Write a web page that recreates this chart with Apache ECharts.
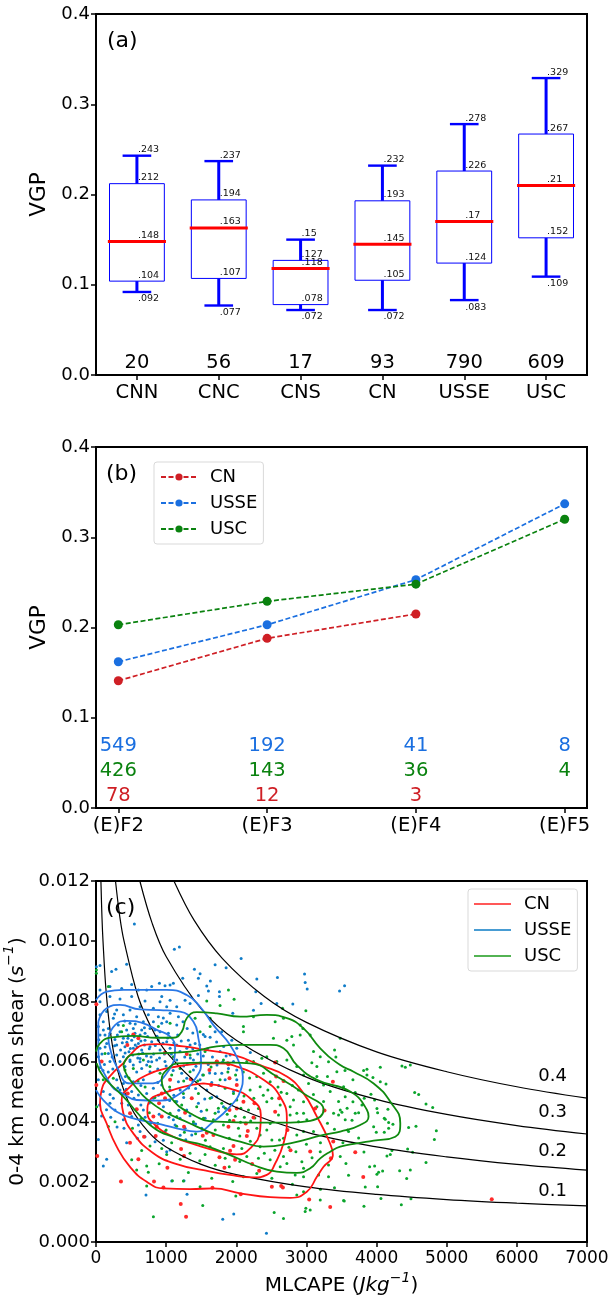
<!DOCTYPE html>
<html><head><meta charset="utf-8">
<style>html,body{margin:0;padding:0;background:#fff}#c{width:608px;height:1296px}</style>
<script src="https://cdn.jsdelivr.net/npm/echarts@6/dist/echarts.min.js"></script>
</head><body><div id="c"></div>
<script>
// ---- panel (a)
const regionsA=['CNN','CNC','CNS','CN','USSE','USC'];
const whiskerLow=[0.092,0.077,0.072,0.072,0.083,0.109];
const q1=[0.104,0.107,0.078,0.105,0.124,0.152];
const median=[0.148,0.163,0.118,0.145,0.17,0.21];
const q3=[0.212,0.194,0.127,0.193,0.226,0.267];
const whiskerHigh=[0.243,0.237,0.15,0.232,0.278,0.329];
const countsA=[20,56,17,93,790,609];
// ---- panel (b)
const ratings=['(E)F2','(E)F3','(E)F4','(E)F5'];
const vgpCN=[0.141,0.188,0.215];
const vgpUSSE=[0.162,0.203,0.253,0.337];
const vgpUSC=[0.203,0.229,0.248,0.32];
const countCN=[78,12,3];
const countUSSE=[549,192,41,8];
const countUSC=[426,143,36,4];
// ---- panel (c) : isolines of VGP
const iso01=[[70,.012],[85,.0108],[100,.01],[140,.00845],[200,.00707],[300,.00577],[500,.00447],[750,.00365],[1000,.00316],[1500,.00258],[2000,.00224],[3000,.00183],[4000,.00158],[5000,.00141],[6000,.00129],[7000,.0012]];
const iso02=[[278,.012],[340,.0108],[400,.01],[600,.00816],[800,.00707],[1000,.00632],[1500,.00516],[2000,.00447],[3000,.00365],[4000,.00316],[5000,.00283],[6000,.00258],[7000,.00239]];
const iso03=[[625,.012],[800,.0106],[1000,.00949],[1500,.00775],[2000,.00671],[3000,.00548],[4000,.00474],[5000,.00424],[6000,.00387],[7000,.00359]];
const iso04=[[1111,.012],[1400,.01069],[1800,.00943],[2400,.00816],[3000,.0073],[4000,.00632],[5000,.00566],[6000,.00516],[7000,.00478]];
const isoLabels=[[6510,.0055,'0.4'],[6510,.0043,'0.3'],[6510,.0030,'0.2'],[6510,.0017,'0.1']];
// contours
const redOuter=[[390,.00594],[532,.00633],[675,.00655],[865,.00658],[1246,.0065],[1579,.00638],[1960,.00622],[2340,.00588],[2721,.0055],[2959,.00494],[3149,.00417],[3315,.00339],[3377,.00289],[3244,.0025],[3149,.00217],[3006,.00167],[2768,.00147],[2483,.00149],[2055,.00162],[1674,.00178],[1341,.00176],[961,.00178],[723,.002],[485,.0025],[295,.00317],[152,.00394],[57,.00461],[80,.00505],[152,.00539],[390,.00594]];
const redMiddle=[[1484,.00594],[1722,.00594],[2007,.00583],[2388,.00539],[2626,.00483],[2721,.00406],[2673,.00328],[2554,.00261],[2435,.00223],[2245,.00215],[1912,.00223],[1531,.00239],[1151,.00259],[818,.00295],[532,.00361],[390,.00428],[366,.00472],[485,.00516],[723,.00555],[1008,.00577],[1484,.00594]];
const redInner=[[1531,.00527],[1912,.0051],[2197,.00478],[2350,.00422],[2340,.00372],[2197,.00311],[2007,.00291],[1769,.003],[1436,.00322],[1103,.0035],[842,.00389],[732,.00433],[770,.00472],[961,.00494],[1246,.00516],[1531,.00527]];
const blueOuter=[[0,.00804],[152,.00832],[390,.00838],[1008,.00838],[1294,.00821],[1484,.00782],[1674,.00721],[1912,.00655],[2055,.00588],[2093,.0055],[2055,.005],[1912,.0045],[1674,.004],[1436,.00367],[1151,.00378],[865,.00394],[532,.00411],[295,.00433],[104,.00472],[0,.00505]];
const blueMiddle=[[33,.00732],[152,.00777],[342,.00788],[628,.00773],[913,.00771],[1198,.00766],[1389,.00732],[1460,.00677],[1498,.006],[1436,.0055],[1198,.00494],[913,.0047],[580,.00472],[413,.00489],[199,.00527],[33,.00644],[33,.00732]];
const blueInner=[[176,.00677],[271,.00721],[437,.00735],[675,.00727],[865,.00705],[1056,.00683],[1127,.00644],[1008,.00561],[770,.00527],[485,.00527],[295,.00583],[199,.00644],[176,.00677]];
const greenOuter=[[0,.00633],[57,.0066],[199,.00679],[532,.00685],[865,.00679],[1103,.00679],[1222,.00699],[1294,.00744],[1436,.00764],[1722,.0076],[2055,.00749],[2435,.00755],[2721,.00744],[2959,.0071],[3197,.00644],[3482,.00588],[3672,.00566],[3958,.00527],[4196,.00466],[4338,.00395],[4267,.0035],[3958,.00337],[3720,.00328],[3482,.00317],[3339,.003],[3197,.00278],[3054,.00245],[2863,.0023],[2578,.00234],[2245,.00256],[1912,.00289],[1531,.00322],[1151,.00345],[770,.00389],[390,.00483],[104,.0055],[9,.00594]];
const greenMiddle=[[390,.00588],[509,.00622],[865,.00627],[1341,.00633],[1722,.0065],[2055,.00655],[2483,.00655],[2673,.00644],[2863,.00588],[3149,.00539],[3624,.005],[3863,.00439],[3886,.00417],[3767,.00389],[3482,.00367],[3244,.00356],[2768,.00328],[2388,.00317],[2055,.00334],[1722,.00356],[1341,.00394],[865,.0045],[485,.00539],[390,.00588]];
const greenInner=[[1151,.00594],[1531,.00596],[1960,.00596],[2197,.00594],[2578,.0055],[2959,.00494],[3244,.00439],[3054,.00403],[2768,.00397],[2293,.00397],[1722,.004],[1341,.00428],[1056,.00483],[937,.00539],[1056,.00583],[1151,.00594]];
// scattered soundings
const dotsUSSE=[[547,.01057],[1117,.00973],[1189,.00981],[2069,.00942],[1698,.00922],[1855,.00912],[1403,.00907],[437,.00923],[285,.00907],[223,.00899],[57,.00919],[5,.00915],[1484,.00892],[1460,.00877],[1236,.00877],[2293,.00874],[2587,.00879],[2973,.00891],[2982,.00863],[3011,.00841],[3472,.00834],[3544,.00852],[1631,.00868],[1579,.00851],[1603,.00834],[1760,.00832],[2278,.00832],[1460,.00819],[1760,.00816],[2245,.0077],[2354,.00793],[2806,.00791],[2578,.00793],[1950,.0076],[1056,.00854],[794,.00849],[904,.0086],[984,.00852],[723,.00838],[509,.00856],[199,.00849],[57,.00838],[366,.00843],[604,.00838],[1103,.0086],
[104,.00253],[152,.00275],[33,.00341],[713,.00156],[1298,.00159],[1807,.00076],[1964,.00093],[2430,.00029],[1079,.00203],[1255,.00204],[80,.00419],[399,.00378],[437,.0033],[628,.00367],[699,.0035],[1056,.00306],[1008,.003],[842,.00333],[984,.00367],[1103,.00406],[1127,.00389],[1198,.00411],[1270,.00378],[1365,.00356],[1508,.00378],[604,.00389],[509,.00417],[390,.00406],[271,.00439],[199,.00461],[104,.005],[33,.00539],[152,.00539],[247,.00478],[366,.00461],[461,.00455],[675,.00439],[723,.00494],[818,.00478],[604,.00489],[509,.005],[342,.00505],[295,.00539],[390,.00527],[532,.00533],[675,.00539],[818,.00511],[937,.00522],[1056,.00505],[1175,.00533],[1294,.00544],[1222,.00561],[1389,.00572],[1484,.00539],[1579,.00505],[1722,.00483],[1817,.0045],[1746,.00433],[1555,.00411],[1389,.00394],[1294,.00439],[1460,.00461],[1151,.00467],[961,.0045],[1888,.00577],[1793,.00561],[1841,.00539],[2007,.00572],[2007,.00539],[1960,.005],[532,.00588],[628,.00599],[723,.00588],[794,.00599],[485,.006],[413,.00583],[651,.00577],[770,.00566],
[57,.00799],[199,.00816],[342,.00808],[509,.00816],[699,.00801],[913,.00799],[1056,.00804],[937,.00816],[1270,.00804],[1341,.00793],[1151,.00782],[1008,.00782],[818,.00777],[628,.00782],[485,.00771],[295,.00771],[152,.00766],[57,.00755],[104,.00732],[247,.00744],[390,.00755],[580,.00749],[746,.00755],[889,.00749],[1056,.0076],[1175,.00749],[1008,.00732],[1151,.00721],[937,.00727],[818,.00732],[675,.00732],[485,.00727],[318,.00721],[176,.0071],[33,.00716],[57,.00688],[199,.00694],[342,.00699],[437,.00705],[532,.0071],[651,.00705],[770,.0071],[913,.00699],[1032,.00694],[461,.00688],[556,.00694],[628,.00688],[699,.00694],[390,.00677],[509,.00671],[604,.0066],[699,.00671],[794,.00666],[889,.00671],[1008,.00666],[1151,.00655],[1317,.00671],[1341,.00655],[1413,.0066],[1555,.00683],[1627,.00681],[1698,.00699],[1793,.00699],[1936,.00671],[2007,.00644],[1912,.00622],[1960,.006],[1769,.00633],[1294,.00644],[1198,.00633],[1056,.00644],[913,.00638],[770,.00649],[651,.00638],[532,.00644],[413,.00649],[295,.00655],[152,.0066],[57,.00644],[33,.00616],[176,.00627],[295,.00622],[390,.00616],[485,.00605],[628,.0061],[746,.006],[865,.00605],[984,.006],[1151,.00605],[1389,.00605],[199,.006],[342,.006],[128,.00688],[270,.00673],[440,.00664],[560,.00655],[610,.00625],[720,.00618],[820,.00625],[470,.00632],[350,.00638],[240,.00575],[100,.0057],[580,.00565],[880,.00575],[1000,.00585],[1100,.0057],[1250,.00585],[1450,.00625],[1600,.0059],[1700,.0056],[1650,.0053],[1750,.0052],[1550,.00475],[1420,.0051],[1250,.0048],[1050,.0047],[880,.0053],[640,.0052],[420,.0055],[200,.0049],[120,.0059],[60,.0058],[2200,.0063],
[265,.00652],[305,.00688],[375,.00662],[415,.00628],[455,.00677],[490,.00643],[525,.00622],[545,.00682],[585,.00648],[595,.00612],[640,.00668],[665,.00628],[690,.00655],[735,.00683],[760,.00642],[785,.00615],[845,.00653],[870,.00684],[905,.00612],[955,.00661],[975,.00625],[1020,.00678],[1075,.00625],[1110,.00662],[1165,.00688],[1215,.00668],[1265,.00615],[1300,.00592],[1345,.00612],[1380,.00642],[1425,.00584],[1480,.00595],[1530,.00618],[1590,.00642],[1660,.00615],[1725,.00588],[1805,.00598],[1855,.00618],[1620,.00562],[1520,.00555],[1380,.00535],[1320,.00512],[1200,.00505],[1110,.00488],[985,.00498],[890,.00488],[760,.00462],[640,.00455],[540,.00478],[430,.00508],[310,.00512],[175,.00565],[230,.00615],[85,.00625],[130,.00648],[105,.00705],[40,.00672],[560,.00725],[690,.00712],[840,.00705],[960,.00745],[410,.00735],[265,.00758],[1240,.00732],[1300,.0071],[1480,.00655],[1530,.0069],[1380,.00695],[1820,.0065],[1720,.00665],[1650,.0048],[1500,.00435],[1340,.0042],[1180,.00438],[1040,.00415],[900,.00425],[780,.00395],[700,.00415],[1420,.00392],[1200,.00355],[1280,.0034],[960,.00338],[590,.00345],[300,.00382],[210,.00415],[150,.0044],[50,.00455]];
const dotsUSC=[[5,.00904],[5,.00893],[1888,.00838],[1579,.00801],[1969,.00807],[1769,.00786],[2992,.00769],[2659,.00777],[1627,.00744],[2102,.00716],[2245,.00749],[2554,.00732],[2673,.00744],[2911,.00721],[2949,.0071],[2102,.00699],[2792,.00683],[2911,.00688],[3054,.00688],[2530,.00677],[2721,.00671],[3482,.00677],[3401,.00638],[3077,.00596],[3315,.00599],[2816,.00655],[2364,.00611],[2245,.006],[2150,.006],[1555,.00633],[1413,.00744],[1484,.00699],[1627,.00716],[889,.00716],[1056,.00727],[390,.0072],[366,.00699],[176,.00849],[128,.00627],[675,.00605],[1103,.00616],[1341,.00622],[1817,.00605],[2435,.00616],[2578,.006],[2721,.00605],[3101,.00633],[3197,.00616],
[4053,.00581],[4362,.00585],[4410,.00581],[4481,.00588],[3815,.0057],[3863,.00574],[3863,.00555],[3948,.00547],[3663,.00539],[4053,.00533],[4134,.00525],[3530,.00516],[3696,.00497],[3920,.00491],[4543,.00497],[4600,.0049],[3972,.00472],[3663,.00466],[3824,.00478],[3791,.00455],[4705,.00459],[4800,.00447],[4162,.00441],[4005,.00444],[4015,.0043],[3696,.00428],[3744,.0043],[3506,.00431],[4110,.00411],[4124,.00408],[4172,.00397],[4233,.00391],[3958,.00383],[4172,.00378],[4457,.00381],[4562,.00385],[4852,.0037],[3996,.00365],[4110,.00365],[3587,.00372],[3744,.00346],[4824,.00341],[4443,.00309],[4514,.00298],[4219,.00304],[4196,.00291],[4148,.00286],[3820,.00299],[4705,.00264],[3563,.00261],[3901,.0025],[3972,.00253],[4329,.00237],[4481,.00239],[4086,.00236],[4029,.00232],[4005,.00225],[4429,.00211],[3839,.00183],[4015,.00184],[4062,.00145],[4490,.00144],[4353,.00124],[3820,.00119],[3539,.00136],
[818,.00084],[1522,.00121],[2540,.00098],[2673,.00078],[2992,.00112],[3054,.00106],[2982,.00101],[3197,.0014],[3529,.00138],[2863,.00156],[2959,.00167],[723,.00186],[580,.00239],[723,.00253],[746,.00232],[509,.00273],[651,.00304],[770,.00319],[937,.00311],[1008,.00291],[1079,.0033],[1317,.00231],[1650,.00212],[1484,.00184],[1950,.00201],[1993,.00153],[1246,.00203],[1089,.00204],[2507,.00212],[2293,.00228],[2102,.00217],[2935,.00267],[2959,.00245],[2721,.00261],[2626,.0025],[2673,.00284],[2483,.00273],[2316,.00278],[2150,.00284],[1841,.00278],[1555,.00291],[1341,.00295],[1627,.00317],[1817,.00311],[2079,.00311],[2340,.00317],[2616,.00339],[2507,.00339],[2673,.00345],[2863,.00356],[2959,.00367],[3101,.00367],[3315,.00217],[3173,.00223],[3315,.00256],[2959,.00217],[2840,.00223],[3197,.003],[3482,.00284],[3601,.00367],
[2863,.00428],[2959,.00428],[2768,.00422],[3006,.00406],[2887,.004],[2602,.00422],[2483,.00394],[2435,.00372],[2293,.00378],[2340,.00356],[2031,.00378],[1817,.00389],[1674,.00406],[1532,.00411],[1389,.004],[1151,.00417],[1056,.00428],[1222,.00455],[1436,.0045],[1579,.00439],[1698,.00428],[1793,.00461],[1627,.00478],[1460,.00494],[1246,.00494],[1127,.00467],[2007,.00472],[1960,.00494],[1841,.00511],[1769,.00539],[1532,.00555],[1341,.00566],[1198,.00577],[1079,.00555],[913,.00561],[770,.00583],[532,.00577],[413,.00572],[247,.00544],[104,.00539],[2293,.0055],[2388,.00561],[2483,.00533],[2340,.00516],[2197,.00505],[2507,.00478],[2435,.00466],[2316,.00444],[2174,.00439],[2721,.00494],[2816,.00472],[2959,.00466],[2768,.0045],[2626,.00455],[3030,.00527],[3149,.0055],[3244,.00522],[3434,.00566],[3339,.005],[3458,.00467],[3553,.00483],[3387,.00428],[3458,.00422],[3482,.00439],[3244,.00467],[3149,.0045],[3553,.00406],[2863,.00583],[2959,.00555],[3149,.00583],[10,.0045],[176,.00384],[271,.004],
[1870,.00425],[1905,.00405],[1985,.00418],[2060,.00398],[2115,.00415],[2205,.00402],[2265,.00412],[1745,.00445],[1845,.00445],[1925,.00458],[2065,.00445],[2110,.00485],[2250,.00478],[2385,.00488],[2450,.00505],[2595,.00515],[2680,.00535],[2800,.0052],[2885,.00505],[2640,.00498],[1880,.00565],[1990,.00555],[2100,.00565],[2190,.00545],[1640,.00582],[1450,.00535],[1250,.00535],[1050,.00515],[990,.00475],[840,.0048],[700,.00515],[600,.00535],[470,.00545],[760,.0043],[640,.0041],[520,.00378],[880,.00395],[1000,.00372],[1150,.00385],[1260,.00365],[1420,.0036],[1560,.00338],[1700,.00372],[1900,.00345],[2050,.00352],[2200,.00335],[2400,.00295],[2550,.00305],[2750,.00315],[2850,.003],[3000,.00325],[3080,.0028],[3200,.0033],[3300,.00395],[3400,.00375],[3520,.0033],[3650,.00405],[3580,.00445],[3100,.0049],[3300,.0055],[3550,.0057],[3420,.00615],[2050,.00268],[1900,.0025],[1700,.00255],[1480,.0027],[1200,.00275],[900,.0026],[3600,.00222],[3200,.00175],[3400,.0018],[2800,.00192]];
const dotsCN=[[3696,.00298],[3810,.00216],[5642,.00142],[80,.006],[5,.00522],[18,.00286],[356,.00201],[485,.0033],[604,.00275],[827,.00201],[1018,.00247],[1208,.00126],[1284,.00084],[1255,.00286],[1213,.00309],[1760,.00282],[1831,.00247],[1983,.00273],[1960,.00319],[1912,.00303],[2164,.00369],[2150,.00352],[2326,.00237],[2226,.00259],[2507,.00184],[2640,.00186],[2664,.00181],[2773,.00305],[3054,.00301],[3349,.00278],[3382,.00334],[3039,.00141],[3339,.00116],[1660,.0018],[2064,.00159],[961,.00181],[580,.00441],[485,.00428],[452,.00494],[818,.00417],[865,.00383],[685,.0035],[851,.00352],[937,.00417],[899,.00461],[937,.00494],[1056,.00539],[1351,.00541],[1365,.00478],[1270,.0043],[1255,.00383],[1579,.00363],[1674,.00356],[1522,.00353],[1888,.00383],[1960,.00402],[2136,.00394],[2245,.00414],[1903,.00439],[2007,.00444],[2102,.00466],[2259,.00461],[2007,.00522],[1903,.00544],[1641,.00522],[1617,.00572],[1722,.00599],[1888,.00591],[2554,.00433],[2611,.00478],[2568,.0055],[2673,.00535],[2730,.00372],[3125,.00444],[3258,.00437],[3377,.00533],[984,.00478],[532,.0069],[604,.00677],[447,.00655],[5,.0079],[1294,.00625],[984,.00629],[1722,.006],[1879,.00594],[2554,.00597]];

const fam='"DejaVu Sans"';
const FS=18, NAME=20, BLACK='#000';
const cRedB='#cf1f25', cBlueB='#1a6fe0', cGreenB='#0a820f';
const cRed='#ff1414', cBlueL='#2a78e6', cGreenL='#0f8a0f';
const gridBase={left:96,width:491,height:361,show:true,borderColor:BLACK,borderWidth:2,outerBoundsMode:'none',containLabel:false};
const gridA=Object.assign({top:14},gridBase), gridB=Object.assign({top:447},gridBase), gridC=Object.assign({top:881},gridBase);
const axisCommon={axisLine:{show:true,onZero:false,lineStyle:{color:BLACK,width:2}},axisTick:{show:true,length:5,lineStyle:{color:BLACK,width:1.5}},splitLine:{show:false},
  axisLabel:{color:BLACK,fontFamily:fam,fontSize:FS,margin:6,hideOverlap:false}};
const xLabel=Object.assign({},axisCommon.axisLabel,{margin:8,fontSize:19.5});
const vgpY=(gi)=>Object.assign({},axisCommon,{type:'value',gridIndex:gi,min:0,max:0.4,interval:0.1,name:'VGP',nameLocation:'middle',nameGap:38,nameTextStyle:{color:BLACK,fontFamily:fam,fontSize:21.5},
  axisLabel:Object.assign({},axisCommon.axisLabel,{formatter:v=>v.toFixed(1)})});
const richName={n:{fontSize:NAME,fontFamily:fam,color:BLACK,lineHeight:30},i:{fontSize:NAME,fontStyle:'italic',fontFamily:fam,color:BLACK,lineHeight:30},s:{fontSize:14,fontStyle:'italic',fontFamily:fam,color:BLACK,verticalAlign:'top',lineHeight:18}};

function textItem(x,y,text,color,size,align,vAlign){return {type:'text',x,y,style:{text,fill:color,font:size+'px '+fam,textAlign:align,textVerticalAlign:vAlign}};}

const boxSeries={type:'custom',xAxisIndex:0,yAxisIndex:0,clip:false,z:5,data:regionsA.map((r,i)=>[i,whiskerLow[i],q1[i],median[i],q3[i],whiskerHigh[i]]),
  encode:{x:0,y:[1,2,3,4,5]},
  renderItem(params,api){
    const i=api.value(0), band=api.size([1,0])[0];
    const cx=api.coord([i,0])[0];
    const Y=v=>api.coord([i,v])[1];
    const lo=api.value(1),a=api.value(2),m=api.value(3),b=api.value(4),hi=api.value(5);
    const hw=band*0.335, cap=band*0.175, mw=band*0.355;
    const blue='#0000ff';
    const kids=[
      {type:'rect',shape:{x:cx-hw,y:Y(b),width:2*hw,height:Y(a)-Y(b)},style:{fill:'none',stroke:blue,lineWidth:1}},
      {type:'line',shape:{x1:cx,y1:Y(b),x2:cx,y2:Y(hi)},style:{stroke:blue,lineWidth:3}},
      {type:'line',shape:{x1:cx,y1:Y(a),x2:cx,y2:Y(lo)},style:{stroke:blue,lineWidth:3}},
      {type:'line',shape:{x1:cx-cap,y1:Y(hi),x2:cx+cap,y2:Y(hi)},style:{stroke:blue,lineWidth:2.4}},
      {type:'line',shape:{x1:cx-cap,y1:Y(lo),x2:cx+cap,y2:Y(lo)},style:{stroke:blue,lineWidth:2.4}},
      {type:'line',shape:{x1:cx-mw,y1:Y(m),x2:cx+mw,y2:Y(m)},style:{stroke:'#ff0000',lineWidth:3}}
    ];
    const fmt=v=>String(v).replace(/^0/,'');
    [a,m,b,hi].forEach(v=>kids.push(textItem(cx+1,Y(v)-1,fmt(v),'#111',9.5,'left','bottom')));
    kids.push(textItem(cx+1,Y(lo)+2,fmt(lo),'#111',9.5,'left','top'));
    return {type:'group',children:kids};
  }};
const countSeries=(xi,yi,rows)=>({type:'custom',xAxisIndex:xi,yAxisIndex:yi,clip:false,z:6,silent:true,data:rows,encode:{x:0,y:1},
  renderItem(params,api){
    const r=rows[params.dataIndex];
    const p=api.coord([r[0],r[1]]);
    return textItem(p[0],p[1],String(r[2]),r[3],r[4],'center','middle');
  }});
const countRowsA=countsA.map((n,i)=>[i,0.0135,n,BLACK,19.5]);
const countRowsB=[];
countUSSE.forEach((n,i)=>countRowsB.push([i,0.0687,n,cBlueB,19.5]));
countUSC.forEach((n,i)=>countRowsB.push([i,0.041,n,cGreenB,19.5]));
countCN.forEach((n,i)=>countRowsB.push([i,0.0133,n,cRedB,19.5]));
const isoRows=isoLabels.map(r=>[r[0],r[1],r[2],BLACK,FS]);

const lineB=(name,data,color)=>({type:'line',name,xAxisIndex:1,yAxisIndex:1,data:data.map((v,i)=>[i,v]),symbol:'circle',symbolSize:9,
  lineStyle:{color,width:1.7,type:[5,2.5]},itemStyle:{color},z:4});
const iso=(d)=>({type:'line',xAxisIndex:2,yAxisIndex:2,data:d,symbol:'none',smooth:0.35,lineStyle:{color:BLACK,width:1.2},z:3,silent:true});
const contour=(name,d,color,lw)=>({type:'line',name,xAxisIndex:2,yAxisIndex:2,data:d,symbol:'none',smooth:0.5,lineStyle:{color,width:lw},itemStyle:{color},z:5,silent:true});
const dots=(d,color,size)=>({type:'scatter',xAxisIndex:2,yAxisIndex:2,data:d,symbolSize:size,itemStyle:{color,opacity:1},z:2,silent:true});

const legendBase={orient:'vertical',selectedMode:false,backgroundColor:'#fff',borderColor:'#d9d9d9',borderWidth:1,borderRadius:3,textStyle:{fontFamily:fam,fontSize:FS,color:BLACK,padding:[0,0,0,8]}};
const option={animation:false,backgroundColor:'#fff',textStyle:{fontFamily:fam},
 grid:[gridA,gridB,gridC],
 xAxis:[
  Object.assign({},axisCommon,{type:'category',gridIndex:0,data:regionsA,axisTick:Object.assign({},axisCommon.axisTick,{alignWithLabel:true}),axisLabel:Object.assign({},xLabel,{interval:0})}),
  Object.assign({},axisCommon,{type:'value',gridIndex:1,min:-0.15,max:3.15,
    axisTick:Object.assign({},axisCommon.axisTick,{customValues:[0,1,2,3]}),
    axisLabel:Object.assign({},xLabel,{customValues:[0,1,2,3],formatter:v=>ratings[Math.round(v)]})}),
  Object.assign({},axisCommon,{type:'value',gridIndex:2,min:0,max:7000,interval:1000,nameLocation:'middle',nameGap:29,
    name:'{n|MLCAPE (}{i|Jkg}{s|−1}{n|)}',
    nameTextStyle:{color:BLACK,fontFamily:fam,fontSize:NAME,rich:richName},
    axisLabel:Object.assign({},xLabel,{fontSize:17,formatter:v=>String(v)})})
 ],
 yAxis:[vgpY(0),vgpY(1),
  Object.assign({},axisCommon,{type:'value',gridIndex:2,min:0,max:0.012,interval:0.002,nameLocation:'middle',nameGap:54,
    name:'{n|0-4 km mean shear (}{i|s}{s|−1}{n|)}',
    nameTextStyle:{color:BLACK,fontFamily:fam,fontSize:NAME,rich:richName},
    axisLabel:Object.assign({},axisCommon.axisLabel,{formatter:v=>v.toFixed(3)})})
 ],
 legend:[
  Object.assign({},legendBase,{left:154,top:462,data:['CN','USSE','USC'],itemWidth:36,itemHeight:9,itemGap:8,padding:[6,6,6,6]}),
  Object.assign({},legendBase,{left:468,top:889,data:[{name:'CN contour',itemStyle:{color:'#ff2020'}},{name:'USSE contour',itemStyle:{color:'#0b7bc4'}},{name:'USC contour',itemStyle:{color:'#1a9a1a'}}],formatter:n=>n.split(' ')[0],icon:'rect',itemWidth:37,itemHeight:1.3,itemGap:8,padding:[6,6,6,6]})
 ],
 graphic:[
  {type:'text',left:107,top:30,style:{text:'(a)',font:'22px '+fam,fill:BLACK}},
  {type:'text',left:106,top:463,style:{text:'(b)',font:'22px '+fam,fill:BLACK}},
  {type:'text',left:106,top:897,z:100,style:{text:'(c)',font:'22px '+fam,fill:BLACK}}
 ],
 series:[
  boxSeries,countSeries(0,0,countRowsA),
  lineB('CN',vgpCN,cRedB),lineB('USSE',vgpUSSE,cBlueB),lineB('USC',vgpUSC,cGreenB),
  countSeries(1,1,countRowsB),
  dots(dotsUSSE,'#0f7cc8',3),dots(dotsUSC,'#0aa52c',3),dots(dotsCN,'#ff2a2a',4),
  iso(iso01),iso(iso02),iso(iso03),iso(iso04),
  contour('CN contour',redOuter,cRed,1.8),contour('CN contour',redMiddle,cRed,1.8),contour('CN contour',redInner,cRed,1.8),
  contour('USSE contour',blueOuter,cBlueL,1.8),contour('USSE contour',blueMiddle,cBlueL,1.8),contour('USSE contour',blueInner,cBlueL,1.8),
  contour('USC contour',greenOuter,cGreenL,1.8),contour('USC contour',greenMiddle,cGreenL,1.8),contour('USC contour',greenInner,cGreenL,1.8),
  countSeries(2,2,isoRows)
 ]};
const chart=echarts.init(document.getElementById('c'),null,{renderer:'canvas',width:608,height:1296});
chart.setOption(option);
</script></body></html>
